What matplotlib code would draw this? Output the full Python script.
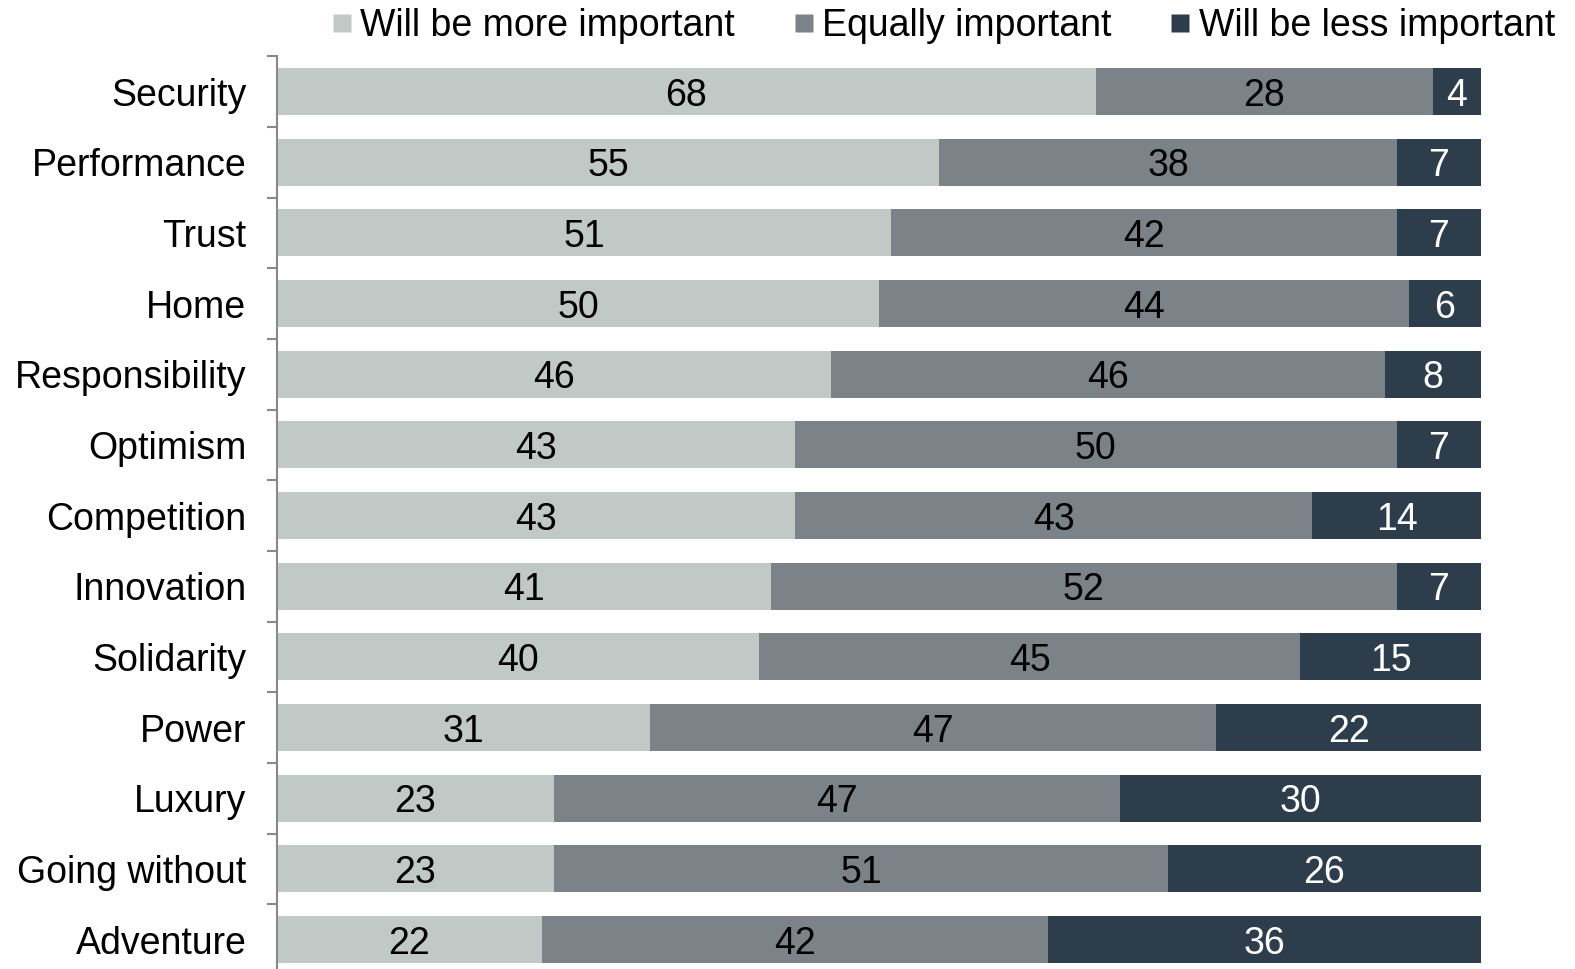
import matplotlib
matplotlib.use("Agg")
import matplotlib.pyplot as plt
from matplotlib.lines import Line2D
import numpy as np

plt.rcParams['font.family'] = ['Liberation Sans', 'DejaVu Sans']

categories = ["Security", "Performance", "Trust", "Home", "Responsibility", "Optimism",
              "Competition", "Innovation", "Solidarity", "Power", "Luxury",
              "Going without", "Adventure"]
more_important = [68, 55, 51, 50, 46, 43, 43, 41, 40, 31, 23, 23, 22]
equally_important = [28, 38, 42, 44, 46, 50, 43, 52, 45, 47, 47, 51, 42]
less_important = [4, 7, 7, 6, 8, 7, 14, 7, 15, 22, 30, 26, 36]
series_names = ["Will be more important", "Equally important", "Will be less important"]
colors = ["#C1C9C7", "#7B8389", "#2E3D4C"]
text_colors = ["black", "black", "white"]

fig = plt.figure(figsize=(15.75, 9.69), dpi=100)
ax = fig.add_axes([277/1575, -0.0061, 1204/1575, 0.9481])

y = np.arange(len(categories))
left = np.zeros(len(categories))
for vals, col, tcol in zip([more_important, equally_important, less_important], colors, text_colors):
    vals = np.array(vals, dtype=float)
    ax.barh(y, vals, left=left, height=0.665, color=col, edgecolor='none')
    for yi, l, v in zip(y, left, vals):
        ax.text(l + v/2, yi, f"{int(v)}", ha='center', va='center_baseline',
                fontsize=27, color=tcol)
    left += vals

ax.set_xlim(0, 100)
ax.set_ylim(len(categories) - 0.5, -0.5)

for s in ['top', 'right', 'bottom']:
    ax.spines[s].set_visible(False)
ax.spines['left'].set_color('#888888')
ax.spines['left'].set_linewidth(1.5)
ax.set_xticks([])

ax.set_yticks(np.arange(-0.5, len(categories) + 0.5, 1.0))
ax.set_yticklabels([])
ax.tick_params(axis='y', which='major', length=7, width=1.5, color='#888888')
ax.set_yticks(y, minor=True)
ax.set_yticklabels(categories, minor=True, fontsize=27)
ax.tick_params(axis='y', which='minor', length=0, pad=22)

handles = [Line2D([0], [0], marker='s', linestyle='none', markersize=12.5,
                  markerfacecolor=c, markeredgecolor='none') for c in colors]
fig.legend(handles, series_names, loc='center right',
           bbox_to_anchor=(1555/1575, 1 - 26/969), ncol=3, frameon=False,
           fontsize=27, handlelength=0.5, handletextpad=0.25,
           columnspacing=1.57, borderpad=0, borderaxespad=0)

fig.savefig("out.png", dpi=100)
